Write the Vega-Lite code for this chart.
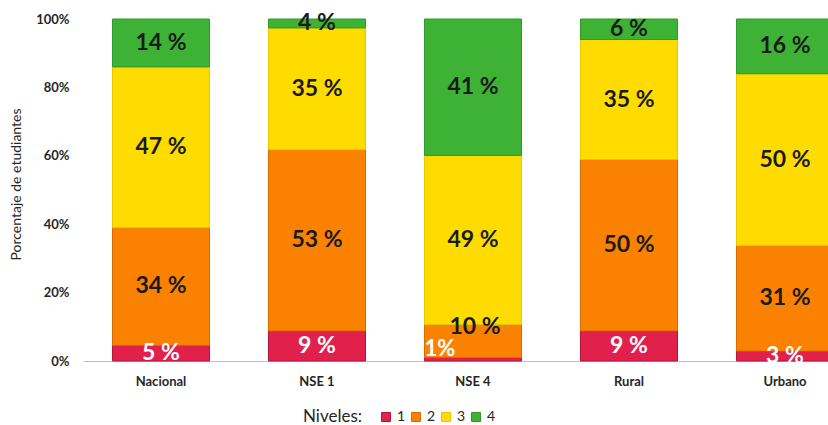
{
  "$schema": "https://vega.github.io/schema/vega-lite/v6.json",
  "autosize": {"type": "none"},
  "width": 745,
  "height": 342,
  "padding": {"left": 83, "top": 19, "right": 0, "bottom": 64},
  "background": "white",
  "config": {
    "font": "Lato",
    "view": {"stroke": null}
  },
  "data": {
    "values": [
      {"grupo": "Nacional", "nivel": "1", "valor": 4.6, "etiqueta": "5 %"},
      {"grupo": "Nacional", "nivel": "2", "valor": 34.4, "etiqueta": "34 %"},
      {"grupo": "Nacional", "nivel": "3", "valor": 47.0, "etiqueta": "47 %"},
      {"grupo": "Nacional", "nivel": "4", "valor": 14.0, "etiqueta": "14 %"},
      {"grupo": "NSE 1", "nivel": "1", "valor": 8.8, "etiqueta": "9 %"},
      {"grupo": "NSE 1", "nivel": "2", "valor": 53.0, "etiqueta": "53 %"},
      {"grupo": "NSE 1", "nivel": "3", "valor": 35.6, "etiqueta": "35 %"},
      {"grupo": "NSE 1", "nivel": "4", "valor": 2.6, "etiqueta": "4 %"},
      {"grupo": "NSE 4", "nivel": "1", "valor": 1.0, "etiqueta": "1%"},
      {"grupo": "NSE 4", "nivel": "2", "valor": 9.7, "etiqueta": "10 %"},
      {"grupo": "NSE 4", "nivel": "3", "valor": 49.4, "etiqueta": "49 %"},
      {"grupo": "NSE 4", "nivel": "4", "valor": 39.9, "etiqueta": "41 %"},
      {"grupo": "Rural", "nivel": "1", "valor": 8.8, "etiqueta": "9 %"},
      {"grupo": "Rural", "nivel": "2", "valor": 50.1, "etiqueta": "50 %"},
      {"grupo": "Rural", "nivel": "3", "valor": 35.1, "etiqueta": "35 %"},
      {"grupo": "Rural", "nivel": "4", "valor": 6.0, "etiqueta": "6 %"},
      {"grupo": "Urbano", "nivel": "1", "valor": 2.9, "etiqueta": "3 %"},
      {"grupo": "Urbano", "nivel": "2", "valor": 30.9, "etiqueta": "31 %"},
      {"grupo": "Urbano", "nivel": "3", "valor": 50.2, "etiqueta": "50 %"},
      {"grupo": "Urbano", "nivel": "4", "valor": 16.0, "etiqueta": "16 %"}
    ]
  },
  "transform": [
    {"stack": "valor", "groupby": ["grupo"], "sort": [{"field": "nivel", "order": "ascending"}], "offset": "normalize", "as": ["y0", "y1"]},
    {"calculate": "(datum.y0 + datum.y1) / 2", "as": "ym"}
  ],
  "encoding": {
    "x": {
      "field": "grupo",
      "type": "nominal",
      "sort": null,
      "scale": {"range": [0, 780], "paddingInner": 0.378, "paddingOuter": 0.189},
      "axis": {
        "title": null,
        "labelAngle": 0,
        "ticks": false,
        "labelPadding": 14,
        "labelFont": "Lato",
        "labelFontSize": 13,
        "labelFontWeight": "bold",
        "labelColor": "#262626",
        "domainColor": "#bfbfbf",
        "domainWidth": 1
      }
    }
  },
  "layer": [
    {
      "mark": {"type": "bar", "strokeWidth": 1},
      "encoding": {
        "y": {
          "field": "y0",
          "type": "quantitative",
          "scale": {"domain": [0, 1], "nice": false},
          "axis": {
            "title": "Porcentaje de etudiantes",
            "titleFont": "Lato",
            "titleFontSize": 14,
            "titleFontWeight": "normal",
            "titleColor": "#262626",
            "titlePadding": 12,
            "titleY": 165,
            "format": ".0%",
            "values": [0, 0.2, 0.4, 0.6, 0.8, 1],
            "grid": false,
            "domain": false,
            "ticks": false,
            "labelPadding": 14,
            "labelFont": "Lato",
            "labelFontSize": 13,
            "labelFontWeight": "bold",
            "labelColor": "#262626"
          }
        },
        "y2": {"field": "y1"},
        "color": {
          "field": "nivel",
          "type": "nominal",
          "scale": {"domain": ["1", "2", "3", "4"], "range": ["#e2204c", "#fb8200", "#ffdc00", "#3db235"]},
          "legend": {
            "title": "Niveles:",
            "orient": "none",
            "legendX": 220,
            "legendY": 391,
            "direction": "horizontal",
            "titleOrient": "left",
            "titleFont": "Lato",
            "titleFontSize": 17,
            "titleFontWeight": "normal",
            "titleColor": "#262626",
            "titlePadding": 16,
            "symbolType": "square",
            "symbolSize": 81,
            "symbolStrokeWidth": 1,
            "labelFont": "Lato",
            "labelFontSize": 14,
            "labelColor": "#262626",
            "labelOffset": 4,
            "columnPadding": 3
          }
        },
        "stroke": {
          "field": "nivel",
          "type": "nominal",
          "scale": {"domain": ["1", "2", "3", "4"], "range": ["#b4143a", "#d86c00", "#e8c600", "#2e9a2a"]},
          "legend": null
        }
      }
    },
    {
      "transform": [{"filter": "!(datum.grupo == 'NSE 4' && (datum.nivel == '1' || datum.nivel == '2'))"}],
      "mark": {"type": "text", "font": "Lato", "fontSize": 23, "fontWeight": "bold", "baseline": "middle", "align": "center"},
      "encoding": {
        "y": {"field": "ym", "type": "quantitative"},
        "text": {"field": "etiqueta"},
        "color": {"condition": {"test": "datum.nivel == '1'", "value": "#ffffff"}, "value": "#1a1a1a"}
      }
    },
    {
      "transform": [{"filter": "datum.grupo == 'NSE 4' && datum.nivel == '2'"}],
      "mark": {"type": "text", "font": "Lato", "fontSize": 23, "fontWeight": "bold", "baseline": "middle", "align": "center", "dx": 2, "dy": -14, "color": "#1a1a1a"},
      "encoding": {
        "y": {"field": "ym", "type": "quantitative"},
        "text": {"field": "etiqueta"}
      }
    },
    {
      "transform": [{"filter": "datum.grupo == 'NSE 4' && datum.nivel == '1'"}],
      "mark": {"type": "text", "font": "Lato", "fontSize": 22, "fontWeight": "bold", "baseline": "middle", "align": "center", "dx": -33, "dy": -10, "color": "#ffffff"},
      "encoding": {
        "y": {"field": "ym", "type": "quantitative"},
        "text": {"field": "etiqueta"}
      }
    }
  ]
}
